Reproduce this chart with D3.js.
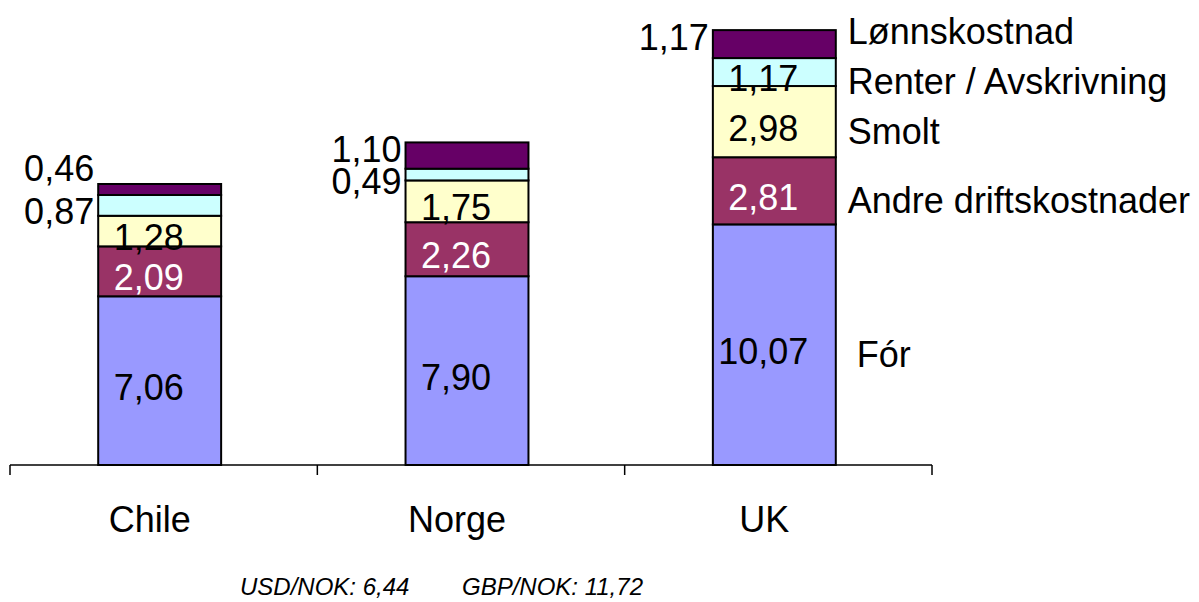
<!DOCTYPE html>
<html>
<head>
<meta charset="utf-8">
<script src="https://cdn.jsdelivr.net/npm/d3@7"></script>
<style>
  body { margin: 0; background: #fff; }
  text { font-family: "Liberation Sans", Arial, sans-serif; }
</style>
</head>
<body>
<script>
const width = 1199;
const height = 602;

// categories and series, bottom to top of each stack
const categories = ["Chile", "Norge", "UK"];
const seriesNames = ["Fór", "Andre driftskostnader", "Smolt", "Renter / Avskrivning", "Lønnskostnad"];
const seriesColors = ["#9999FF", "#993366", "#FFFFCC", "#CCFFFF", "#660066"];
const forValues = [7.06, 7.90, 10.07];
const andreValues = [2.09, 2.26, 2.81];
const smoltValues = [1.28, 1.75, 2.98];
const renterValues = [0.87, 0.49, 1.17];
const lonnValues = [0.46, 1.10, 1.17];
const footnotes = ["USD/NOK: 6,44", "GBP/NOK: 11,72"];

const allValues = [forValues, andreValues, smoltValues, renterValues, lonnValues];

// build rows for d3.stack
const rows = categories.map((c, i) => {
  const row = { category: c };
  seriesNames.forEach((s, j) => (row[s] = allValues[j][i]));
  return row;
});
const stacked = d3.stack().keys(seriesNames)(rows);

const svg = d3
  .select("body")
  .append("svg")
  .attr("width", width)
  .attr("height", height);

const x = d3.scaleBand().domain(categories).range([10, 932]).padding(0);
const y = d3.scaleLinear().domain([0, 19]).range([465, 11]);

const barW = x.bandwidth() * 0.4;
const barX = (c) => x(c) + (x.bandwidth() - barW) / 2 - 4;

const fmt = (v) => v.toFixed(2).replace(".", ",");

// bars
svg
  .selectAll(".layer")
  .data(stacked)
  .join("g")
  .attr("class", "layer")
  .attr("fill", (d, i) => seriesColors[i])
  .selectAll("rect")
  .data((d) => d)
  .join("rect")
  .attr("x", (d) => barX(d.data.category))
  .attr("y", (d) => y(d[1]))
  .attr("width", barW)
  .attr("height", (d) => y(d[0]) - y(d[1]))
  .attr("stroke", "#000")
  .attr("stroke-width", 2);

// x axis: baseline with tick marks at band edges
const axis = svg.append("g").attr("transform", `translate(0,${y(0)})`);
axis
  .append("line")
  .attr("x1", x.range()[0])
  .attr("x2", x.range()[1])
  .attr("stroke", "#000")
  .attr("stroke-width", 1.5);
const edges = categories.map((c) => x(c)).concat([x.range()[1]]);
axis
  .selectAll(".tick")
  .data(edges)
  .join("line")
  .attr("class", "tick")
  .attr("x1", (d) => d)
  .attr("x2", (d) => d)
  .attr("y1", 0)
  .attr("y2", 10)
  .attr("stroke", "#000")
  .attr("stroke-width", 1.5);

axis
  .selectAll(".cat")
  .data(categories)
  .join("text")
  .attr("class", "cat")
  .attr("x", (d) => x(d) + x.bandwidth() / 2 - 14)
  .attr("y", 67)
  .attr("text-anchor", "middle")
  .attr("font-size", 36)
  .text((d) => d);

// value labels: small ones and the top segment sit left of the bar
categories.forEach((c, ci) => {
  const labels = stacked.map((layer, si) => {
    const d = layer[ci];
    const mid = (y(d[0]) + y(d[1])) / 2;
    const value = allValues[si][ci];
    const outside = si === seriesNames.length - 1 || value < 1;
    return { si, value, outside, base: mid + 19, mid };
  });
  // top outside label moved clear of the one below it
  for (let k = 1; k < labels.length; k++) {
    const l = labels[k];
    const prev = labels[k - 1];
    if (l.outside) {
      if (k === labels.length - 1) l.base = l.mid + 6;
      if (prev.outside && l.base > prev.base - 30) l.base = prev.base - 43;
    }
  }
  svg
    .append("g")
    .selectAll("text")
    .data(labels)
    .join("text")
    .attr("x", (d) => (d.outside ? barX(c) - 4 : barX(c) + barW / 2 - 11))
    .attr("y", (d) => d.base)
    .attr("text-anchor", (d) => (d.outside ? "end" : "middle"))
    .attr("font-size", 36)
    .attr("fill", (d) => (!d.outside && d.si === 1 ? "#fff" : "#000"))
    .text((d) => fmt(d.value));
});

// series names next to the last bar
const last = categories.length - 1;
const legend = stacked.map((layer, si) => ({
  name: seriesNames[si],
  base: (y(layer[last][0]) + y(layer[last][1])) / 2 + 22,
}));
for (let k = legend.length - 2; k >= 0; k--) {
  legend[k + 1].base = Math.min(legend[k + 1].base, legend[k].base - 50);
}
svg
  .append("g")
  .selectAll("text")
  .data(legend)
  .join("text")
  .attr("x", (d, i) => barX(categories[last]) + barW + (i === 0 ? 21 : 12))
  .attr("y", (d) => d.base)
  .attr("font-size", 36)
  .text((d) => d.name);

// exchange rate note
svg
  .append("g")
  .selectAll("text")
  .data(footnotes)
  .join("text")
  .attr("x", (d, i) => 240 + i * 222)
  .attr("y", 595)
  .attr("font-size", 24)
  .attr("font-style", "italic")
  .text((d) => d);
</script>
</body>
</html>
